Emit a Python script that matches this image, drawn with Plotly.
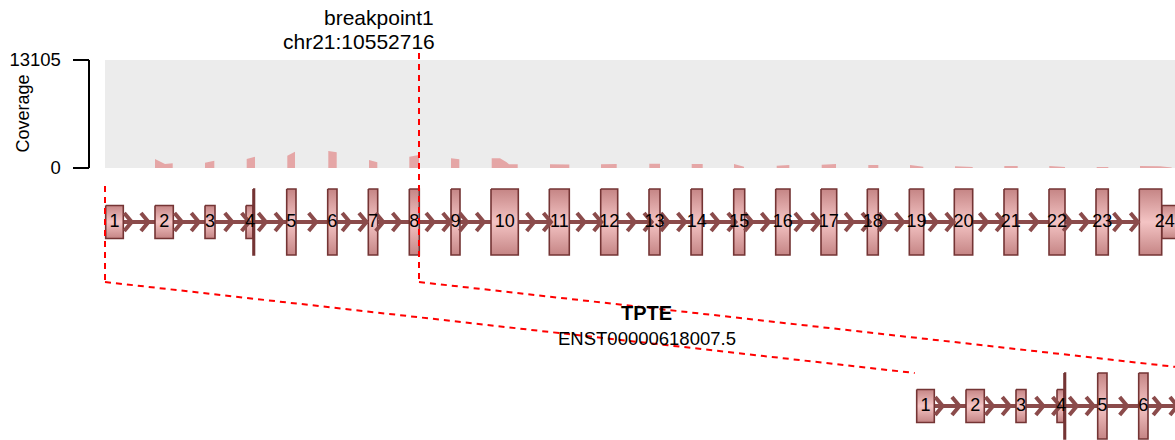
import plotly.graph_objects as go

W, H = 1175, 440
FONT = "Liberation Sans, Arial, sans-serif"

# TPTE exons, positions in chart x units
exon_labels = [str(i) for i in range(1, 25)]
exon_start = [105.7, 155.0, 205.0, 246.0, 286.7, 327.7, 368.3, 409.3, 451.0, 491.0,
              549.3, 600.7, 649.0, 691.0, 733.7, 775.7, 821.0, 867.3, 909.3, 954.3,
              1004.0, 1049.0, 1096.0, 1139.3]
exon_end = [123.3, 173.3, 215.0, 254.5, 296.0, 337.0, 377.7, 419.3, 460.0, 518.3,
            569.3, 617.7, 660.0, 702.3, 744.7, 790.0, 836.7, 878.3, 923.7, 972.7,
            1017.7, 1065.0, 1108.3, 1190.0]
cds_start = 253.0
cds_end = 1161.7

# coverage profile (x, reads); None separates exons
cov_x = [155, 165, 172.7, None, 205, 214.3, None, 246.7, 255, None, 287.3, 295, None,
         328.3, 336.7, None, 369, 377.3, None, 409.3, 419, None, 451, 459.3, None,
         491.7, 500, 506.7, 509, 517.7, None, 550, 569.3, None, 601, 616.7, None,
         649.3, 660, None, 691.7, 702.7, None, 734, 744, None, 776.7, 789.3, None,
         821.7, 836, None, 868.3, 878.3, None, 910, 923.3, None, 955, 972.7, None,
         1004.3, 1017.7, None, 1049.3, 1065, None, 1096.7, 1108.3, None, 1140, 1160, 1171.7]
cov_y = [1090, 480, 570, None, 640, 880, None, 1090, 1370, None, 1490, 1970, None,
         2050, 1900, None, 970, 690, None, 1370, 1570, None, 1170, 1050, None,
         1170, 1170, 690, 450, 450, None, 450, 420, None, 450, 480, None,
         520, 520, None, 480, 480, None, 480, 160, None, 280, 360, None,
         400, 480, None, 360, 360, None, 360, 160, None, 210, 120, None,
         240, 240, None, 240, 120, None, 120, 120, None, 240, 200, 60]
cov_max = 13105

breakpoint_x = 419.0
gene_name = "TPTE"
transcript_id = "ENST00000618007.5"
breakpoint_text = ["breakpoint1", "chr21:10552716"]

# styling
exon_line = "#743434"
intron_col = "#8b4b4b"
tall_half, short_half = 33, 16.5
arrow_first, arrow_step = 131.7, 16.77
bottom_shift = 811
grad = [[0, "#c58585"], [0.5, "#f4c4c4"], [1, "#c58585"]]

fig = go.Figure()

# coverage
px, py = [], []
seg_x, seg_y = [], []
for x, y in zip(cov_x + [None], cov_y + [None]):
    if x is None:
        px += [seg_x[0]] + seg_x + [seg_x[-1], None]
        py += [0] + seg_y + [0, None]
        seg_x, seg_y = [], []
    else:
        seg_x.append(x)
        seg_y.append(y)
fig.add_trace(go.Scatter(x=px, y=py, yaxis="y2", fill="toself", mode="none",
                         fillcolor="#e5a6a6", hoverinfo="skip", showlegend=False))


def draw_track(dx, yc):
    # intron line
    fig.add_trace(go.Scatter(x=[exon_start[0] + dx, exon_end[-1] + dx], y=[yc, yc],
                             mode="lines", line=dict(color=intron_col, width=4),
                             hoverinfo="skip", showlegend=False))
    # exons split into UTR (short) and coding (tall) parts
    for s, e in zip(exon_start, exon_end):
        if s + dx > W:
            continue
        parts = []
        if s < cds_start:
            parts.append((s, min(e, cds_start), short_half))
        if e > cds_end:
            parts.append((max(s, cds_end), e, short_half))
        cs, ce = max(s, cds_start), min(e, cds_end)
        if ce > cs:
            parts.append((cs, ce, tall_half))
        for a, b, hh in parts:
            fig.add_trace(go.Scatter(
                x=[a + dx, b + dx, b + dx, a + dx, a + dx],
                y=[yc - hh, yc - hh, yc + hh, yc + hh, yc - hh],
                mode="lines", fill="toself", fillgradient=dict(type="vertical", colorscale=grad),
                line=dict(color=exon_line, width=1.6), hoverinfo="skip", showlegend=False))
    # direction chevrons
    ax, ay = [], []
    tip = arrow_first
    while tip < exon_end[-1] and tip + dx < W + 10:
        c = tip - 3.5
        if not any(s <= c <= e for s, e in zip(exon_start, exon_end)):
            ax += [tip - 7.5 + dx, tip + dx, tip - 7.5 + dx, None]
            ay += [yc - 9, yc, yc + 9, None]
        tip += arrow_step
    fig.add_trace(go.Scatter(x=ax, y=ay, mode="lines",
                             line=dict(color=intron_col, width=4),
                             hoverinfo="skip", showlegend=False))
    # exon numbers (only those inside the frame)
    lx, lt = [], []
    for s, e, t in zip(exon_start, exon_end, exon_labels):
        if (s + e) / 2 + dx < W:
            lx.append((s + e) / 2 + dx)
            lt.append(t)
    fig.add_trace(go.Scatter(
        x=lx, y=[yc] * len(lx), text=lt, mode="text",
        textfont=dict(size=18, color="black", family=FONT),
        hoverinfo="skip", showlegend=False, cliponaxis=True))


draw_track(0, 222)
draw_track(bottom_shift, 406)

red = dict(color="#ff0000", width=2, dash="6px,5px")
shapes = [
    dict(type="rect", xref="x", yref="y2", x0=exon_start[0] - 0.7, x1=W, y0=0, y1=cov_max,
         fillcolor="#ececec", line=dict(width=0), layer="below"),
    dict(type="line", xref="x", yref="y", x0=breakpoint_x, x1=breakpoint_x, y0=53, y1=282,
         line=red, layer="above"),
    dict(type="line", xref="x", yref="y", x0=exon_start[0] - 0.7, x1=exon_start[0] - 0.7,
         y0=186, y1=282, line=red, layer="above"),
    dict(type="line", xref="x", yref="y", x0=exon_start[0] - 0.7, x1=exon_start[0] + bottom_shift - 2,
         y0=282, y1=373, line=red, layer="above"),
    dict(type="line", xref="x", yref="y", x0=breakpoint_x, x1=breakpoint_x + bottom_shift,
         y0=282, y1=373, line=red, layer="above"),
]

annotations = [
    dict(x=436, y=17, text=breakpoint_text[0], xanchor="right", font=dict(size=21)),
    dict(x=437, y=41, text=breakpoint_text[1], xanchor="right", font=dict(size=21)),
    dict(x=646.7, y=313, text="<b>" + gene_name + "</b>", font=dict(size=20)),
    dict(x=646.7, y=338, text=transcript_id, font=dict(size=18.5)),
    dict(x=22.5, y=114, text="Coverage", textangle=-90, font=dict(size=18)),
]
for a in annotations:
    a.update(xref="x", yref="y", showarrow=False, yanchor="middle")
    a.setdefault("xanchor", "center")
    a["font"].update(family=FONT, color="black")

fig.update_layout(
    width=W, height=H, autosize=False,
    margin=dict(l=0, r=0, t=0, b=0, pad=0, autoexpand=False),
    paper_bgcolor="white", plot_bgcolor="white",
    showlegend=False,
    xaxis=dict(range=[0, W], visible=False, fixedrange=True, automargin=False),
    yaxis=dict(range=[H, 0], visible=False, fixedrange=True, automargin=False),
    yaxis2=dict(range=[0, cov_max], domain=[(H - 168) / H, (H - 60) / H],
                anchor="free", position=89.3 / W, side="left", automargin=False,
                showline=True, linecolor="black", linewidth=1.5,
                ticks="outside", ticklen=16, tickwidth=1.5, tickcolor="black",
                tickvals=[0, cov_max], ticktext=["0", str(cov_max)],
                ticklabelstandoff=8,
                tickfont=dict(size=18.5, color="black", family=FONT),
                showgrid=False, zeroline=False, fixedrange=True),
    shapes=shapes,
    annotations=annotations,
    font=dict(family=FONT),
)

fig.write_html("out.html", config={"displayModeBar": False},
               post_script="document.body.style.margin='0';")
